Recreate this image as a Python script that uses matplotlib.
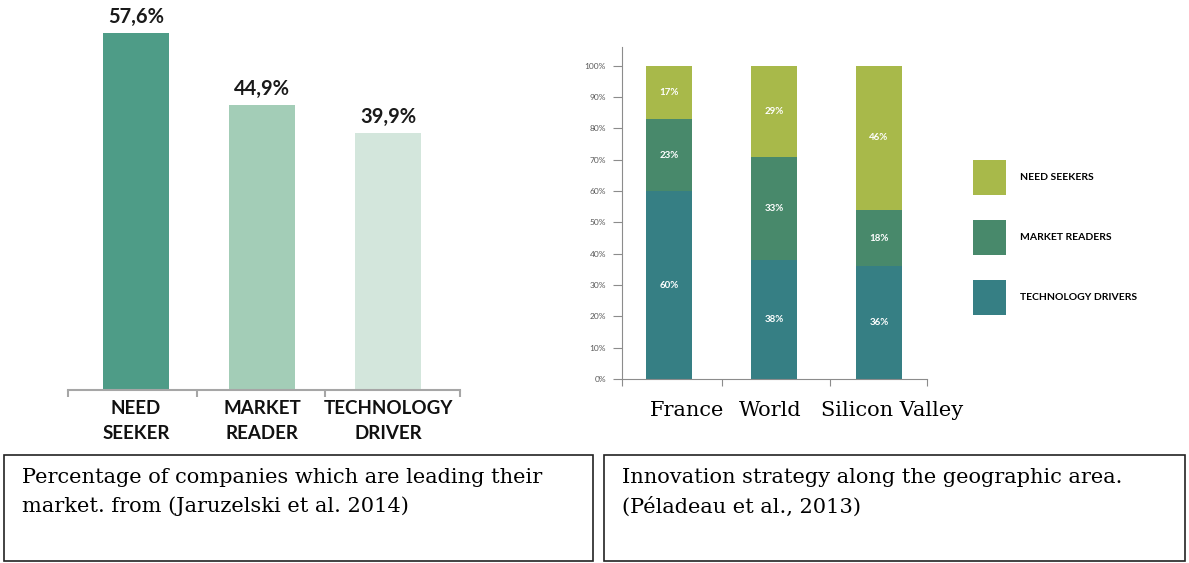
import numpy as np
import matplotlib
matplotlib.use("Agg")
import matplotlib.pyplot as plt
from matplotlib.patches import Patch, Rectangle

# left chart data
lead_cats = ["NEED\nSEEKER", "MARKET\nREADER", "TECHNOLOGY\nDRIVER"]
lead_vals = [57.6, 44.9, 39.9]
lead_cols = ["#4e9c87", "#a3cdb7", "#d3e6dc"]

# right chart data
regions = ["France", "World", "Silicon Valley"]
tech_drivers = [60, 38, 36]
market_readers = [23, 33, 18]
need_seekers = [17, 29, 46]
series_names = ["NEED SEEKERS", "MARKET READERS", "TECHNOLOGY DRIVERS"]
c_need = "#a8b94a"
c_market = "#48896b"
c_tech = "#367f84"

captions = ["Percentage of companies which are leading their\nmarket. from (Jaruzelski et al. 2014)",
            "Innovation strategy along the geographic area.\n(Péladeau et al., 2013)"]

W, H = 1189, 563
fig = plt.figure(figsize=(W / 100, H / 100), dpi=100)

def fx(px):
    return px / W

def fy(py):
    return 1 - py / H

# ---- left bar chart (value axis does not start at 0 in the original)
ymin = -5.4
ax1 = fig.add_axes([fx(68), fy(390), fx(392), 384 / H])
x = np.arange(len(lead_vals))
ax1.bar(x, np.array(lead_vals) - ymin, bottom=ymin, width=0.52, color=lead_cols)
for xi, v in zip(x, lead_vals):
    ax1.text(xi, v + 1.0, ("%.1f%%" % v).replace(".", ","), ha="center", va="bottom",
             fontsize=14.5, fontweight="bold", family="Lato", color="#1a1a1a")
ax1.set_xlim(-0.54, 2.57)
ax1.set_ylim(ymin, 62.3)
ax1.set_yticks([])
for s in ["top", "right", "left"]:
    ax1.spines[s].set_visible(False)
ax1.spines["bottom"].set_color("#a6a6a6")
ax1.spines["bottom"].set_linewidth(1.5)
ax1.set_xticks(x)
ax1.set_xticklabels(lead_cats, fontsize=13.5, fontweight="bold", family="Lato",
                    color="#111111", linespacing=1.6)
ax1.set_xticks([-0.54, 0.48, 1.5, 2.57], minor=True)
ax1.tick_params(axis="x", which="major", length=0, pad=7)
ax1.tick_params(axis="x", which="minor", length=5, width=1.5, color="#a6a6a6")

# ---- right stacked chart
ax2 = fig.add_axes([fx(622), fy(379), fx(305), 332 / H])
x2 = np.arange(len(regions))
bot2 = np.array(tech_drivers)
bot3 = bot2 + np.array(market_readers)
ax2.bar(x2, tech_drivers, width=0.44, color=c_tech)
ax2.bar(x2, market_readers, width=0.44, bottom=bot2, color=c_market)
ax2.bar(x2, need_seekers, width=0.44, bottom=bot3, color=c_need)
for i in range(len(regions)):
    for b, v in [(0, tech_drivers[i]), (bot2[i], market_readers[i]), (bot3[i], need_seekers[i])]:
        ax2.text(x2[i], b + v / 2, "%d%%" % v, ha="center", va="center",
                 fontsize=7, fontweight="bold", family="Lato", color="white")
ax2.set_xlim(-0.448, 2.457)
ax2.set_ylim(0, 106)
ax2.set_yticks(np.arange(0, 101, 10))
ax2.set_yticklabels(["%d%%" % t for t in range(0, 101, 10)], fontsize=6, family="Lato", color="#595959")
ax2.tick_params(axis="y", length=6.5, width=0.8, color="#8c8c8c", pad=5)
ax2.set_xticks([-0.448, 0.505, 1.533, 2.457])
ax2.set_xticklabels([])
ax2.tick_params(axis="x", length=5, width=0.8, color="#8c8c8c")
for s in ["top", "right"]:
    ax2.spines[s].set_visible(False)
for s in ["left", "bottom"]:
    ax2.spines[s].set_color("#8c8c8c")
    ax2.spines[s].set_linewidth(0.8)

# region names (added below the chart)
for name, px in zip(regions, [687, 770, 892]):
    fig.text(fx(px), fy(411), name, ha="center", va="center", fontsize=15, family="DejaVu Serif")

handles = [Patch(facecolor=c, edgecolor="none") for c in [c_need, c_market, c_tech]]
fig.legend(handles, series_names, loc="upper left", bbox_to_anchor=(fx(973), fy(160)),
           frameon=False, borderpad=0, borderaxespad=0,
           prop={"family": "Lato", "weight": "bold", "size": 7.5},
           handlelength=3.17, handleheight=4.79, labelspacing=2.41, handletextpad=1.3)

# caption boxes
for (x0, x1), txt in zip([(4, 593), (604, 1185)], captions):
    fig.add_artist(Rectangle((fx(x0), fy(561)), fx(x1 - x0), (561 - 455) / H,
                             transform=fig.transFigure, fill=False, edgecolor="#222222", linewidth=1.2))
    fig.text(fx(x0 + 18), fy(468), txt, ha="left", va="top", fontsize=15,
             family="DejaVu Serif", linespacing=1.6)

fig.savefig("out.png", dpi=100)
